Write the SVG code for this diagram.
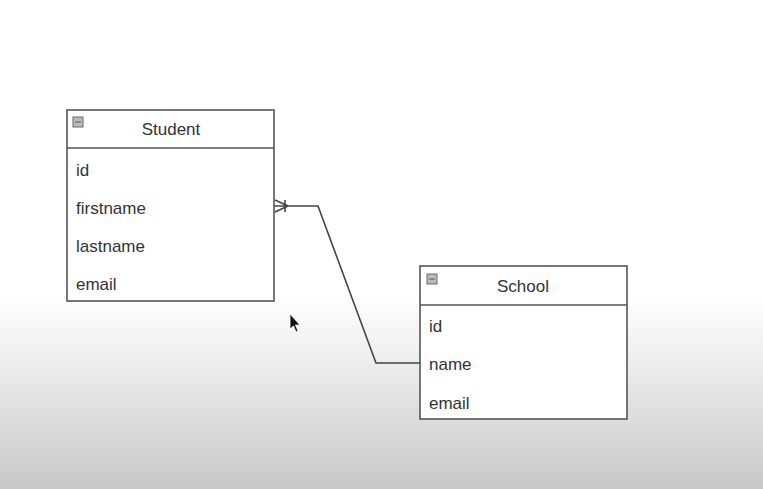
<svg xmlns="http://www.w3.org/2000/svg" width="763" height="489" viewBox="0 0 763 489">
<defs>
<linearGradient id="bg" x1="0" y1="0" x2="0" y2="1">
<stop offset="0" stop-color="#ffffff"/>
<stop offset="0.6" stop-color="#ffffff"/>
<stop offset="0.72" stop-color="#f0f0f0"/>
<stop offset="0.86" stop-color="#dcdcdc"/>
<stop offset="1" stop-color="#c8c8c8"/>
</linearGradient>
</defs>
<style>
.box{fill:#ffffff;stroke:#555555;stroke-width:1.6}
.div{stroke:#555555;stroke-width:1.6}
.title{font-family:"Liberation Sans",Arial,sans-serif;font-size:17px;fill:#333333;text-anchor:middle}
.attr{font-family:"Liberation Sans",Arial,sans-serif;font-size:17px;fill:#333333}
.icon{fill:#bbbbbb;stroke:#666666;stroke-width:1}
.conn{fill:none;stroke:#444444;stroke-width:1.6}
</style>
<rect x="0" y="0" width="763" height="489" fill="url(#bg)"/>
<g id="connectors">
<polyline class="conn" points="274,206 318,206 376,363 420,363"/>
<line class="conn" x1="288" y1="206" x2="275" y2="200"/>
<line class="conn" x1="288" y1="206" x2="275" y2="212"/>
<line class="conn" x1="285" y1="200" x2="285" y2="212"/>
</g>
<g id="student">
<rect class="box" x="67" y="110" width="207" height="191"/>
<line class="div" x1="67" y1="148" x2="274" y2="148"/>
<rect class="icon" x="73" y="117" width="10" height="10"/>
<line x1="75" y1="122" x2="81" y2="122" stroke="#555" stroke-width="1"/>
<text class="title" x="171" y="135">Student</text>
<text class="attr" x="76" y="176">id</text>
<text class="attr" x="76" y="214">firstname</text>
<text class="attr" x="76" y="252">lastname</text>
<text class="attr" x="76" y="290">email</text>
</g>
<g id="school">
<rect class="box" x="420" y="266" width="207" height="153"/>
<line class="div" x1="420" y1="305" x2="627" y2="305"/>
<rect class="icon" x="427" y="274" width="10" height="10"/>
<line x1="429" y1="279" x2="435" y2="279" stroke="#555" stroke-width="1"/>
<text class="title" x="523" y="292">School</text>
<text class="attr" x="429" y="332">id</text>
<text class="attr" x="429" y="370">name</text>
<text class="attr" x="429" y="409">email</text>
</g>
<g id="cursor">
<polygon points="290,314 290,329 293.5,326 296,332 298,331 295.5,325 300,325" fill="#111111" stroke="#ffffff" stroke-width="0.8"/>
</g>
</svg>
